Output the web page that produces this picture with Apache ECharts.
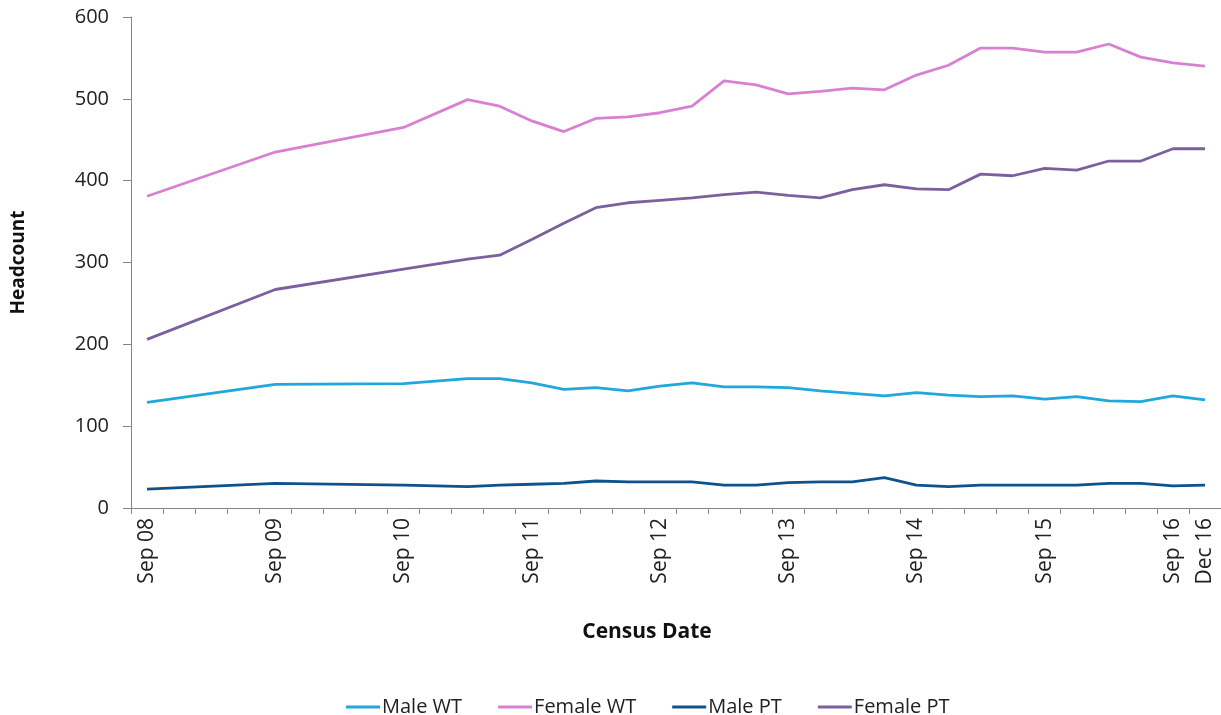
<!DOCTYPE html>
<html>
<head>
<meta charset="utf-8">
<script src="https://cdn.jsdelivr.net/npm/echarts@6/dist/echarts.min.js"></script>
<style>
html,body{margin:0;padding:0;background:#fff;}
#chart{width:1221px;height:715px;}
</style>
</head>
<body>
<div id="chart"></div>
<script>
var categories = ['Sep 08','Dec 08','Mar 09','Jun 09','Sep 09','Dec 09','Mar 10','Jun 10','Sep 10','Dec 10','Mar 11','Jun 11','Sep 11','Dec 11','Mar 12','Jun 12','Sep 12','Dec 12','Mar 13','Jun 13','Sep 13','Dec 13','Mar 14','Jun 14','Sep 14','Dec 14','Mar 15','Jun 15','Sep 15','Dec 15','Mar 16','Jun 16','Sep 16','Dec 16'];
var tickLabels = ['Sep 08','Sep 09','Sep 10','Sep 11','Sep 12','Sep 13','Sep 14','Sep 15','Sep 16','Dec 16'];
var yTicks = [0,100,200,300,400,500,600];
var seriesNames = ['Male WT','Female WT','Male PT','Female PT'];
var maleWT   = [129,null,null,null,151,null,null,null,152,null,158,158,153,145,147,143,149,153,148,148,147,143,140,137,141,138,136,137,133,136,131,130,137,132];
var femaleWT = [381,null,null,null,435,null,null,null,465,null,499,491,473,460,476,478,483,491,522,517,506,509,513,511,529,541,562,562,557,557,567,551,544,540];
var malePT   = [23,null,null,null,30,null,null,null,28,null,26,28,29,30,33,32,32,32,28,28,31,32,32,37,28,26,28,28,28,28,30,30,27,28];
var femalePT = [206,null,null,null,267,null,null,null,292,null,304,309,328,348,367,373,376,379,383,386,382,379,389,395,390,389,408,406,415,413,424,424,439,439];
var colors = ['#1FA7DE','#D880D2','#0F528C','#7A619E'];

var font = 'Open Sans';
var chart = echarts.init(document.getElementById('chart'));
function mk(name, data, color) {
  return {
    name: name, type: 'line', data: data, connectNulls: true,
    symbol: 'none', smooth: false,
    lineStyle: {width: 2.8, color: color},
    itemStyle: {color: color}
  };
}
chart.setOption({
  animation: false,
  textStyle: {fontFamily: font},
  grid: {left: 131, top: 17, width: 1097, bottom: 207, containLabel: false},
  legend: {
    top: 692, left: 341,
    icon: 'rect', itemWidth: 34, itemHeight: 3, itemGap: 36,
    textStyle: {fontFamily: font, fontSize: 20, color: '#222', padding: [0,0,0,-3]},
    data: seriesNames
  },
  xAxis: {
    type: 'category', data: categories, boundaryGap: true,
    name: 'Census Date', nameLocation: 'middle', nameGap: 114,
    nameTextStyle: {fontFamily: font, fontSize: 21, fontWeight: 'bold', color: '#111', padding: [0, 58, 0, 0]},
    axisLine: {lineStyle: {color: '#868686', width: 1}},
    axisTick: {show: true, interval: 0, alignWithLabel: false, length: 6, lineStyle: {color: '#868686'}},
    axisLabel: {
      interval: 0, rotate: 90, margin: 10,
      fontFamily: font, fontSize: 21, color: '#222',
      formatter: function (v) { return tickLabels.indexOf(v) >= 0 ? v : ''; }
    },
    splitLine: {show: false}
  },
  yAxis: {
    type: 'value', min: yTicks[0], max: yTicks[yTicks.length-1], interval: 100,
    name: 'Headcount', nameLocation: 'middle', nameGap: 103, nameRotate: 90,
    nameTextStyle: {fontFamily: font, fontSize: 19, fontWeight: 'bold', color: '#111'},
    axisLine: {show: true, lineStyle: {color: '#868686', width: 1}},
    axisTick: {show: true, length: 8, lineStyle: {color: '#868686'}},
    axisLabel: {margin: 22, fontFamily: font, fontSize: 20, color: '#222'},
    splitLine: {show: false}
  },
  series: [
    mk(seriesNames[0], maleWT, colors[0]),
    mk(seriesNames[1], femaleWT, colors[1]),
    mk(seriesNames[2], malePT, colors[2]),
    mk(seriesNames[3], femalePT, colors[3])
  ]
});
</script>
</body>
</html>
